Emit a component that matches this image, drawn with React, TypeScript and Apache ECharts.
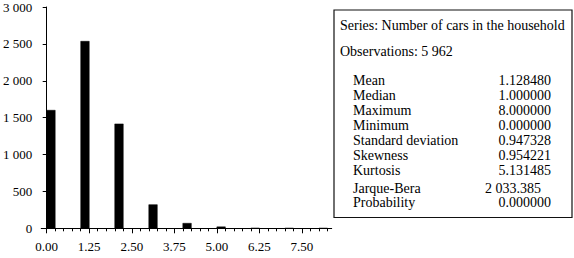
import React, { useEffect, useRef } from "react";
import * as echarts from "echarts";

const binStarts = [0, 1, 2, 3, 4, 5, 6, 7, 8];
const counts = [1600, 2535, 1415, 320, 68, 20, 2, 1, 1];
const binWidth = 0.25;
const xTickLabels = [0, 1.25, 2.5, 3.75, 5, 6.25, 7.5];
const seriesTitle = "Series: Number of cars in the household";
const obsText = "Observations: 5 962";
const statNames = ["Mean", "Median", "Maximum", "Minimum", "Standard deviation", "Skewness", "Kurtosis"];
const statValues = ["1.128480", "1.000000", "8.000000", "0.000000", "0.947328", "0.954221", "5.131485"];
const jbName = "Jarque-Bera";
const jbValue = "2 033.385";
const probName = "Probability";
const probValue = "0.000000";

const FONT = '"Liberation Serif", serif';

export default function App() {
  const ref = useRef<HTMLDivElement>(null);
  useEffect(() => {
    const chart = echarts.init(ref.current!, null, { renderer: "svg" });
    const minorTicks: number[] = [];
    for (let i = 0; i <= 33; i++) {
      const v = i * 0.25;
      if (!xTickLabels.some((m) => Math.abs(m - v) < 1e-9)) minorTicks.push(v);
    }
    const data = binStarts.map((b, i) => [b, counts[i]]);
    const txt = (text: string, x: number, y: number, align = "left") => ({
      type: "text",
      x,
      y,
      style: { text, font: `14px ${FONT}`, fill: "#000", align, verticalAlign: "middle" },
    });
    const graphics: any[] = [
      {
        type: "rect",
        shape: { x: 334, y: 10, width: 238, height: 207.5 },
        style: { fill: "#fff", stroke: "#111", lineWidth: 1.2 },
      },
      txt(seriesTitle, 340, 25),
      txt(obsText, 340, 51.5),
    ];
    statNames.forEach((n, i) => {
      graphics.push(txt(n, 353, 80 + i * 15));
      graphics.push(txt(statValues[i], 551, 80 + i * 15, "right"));
    });
    graphics.push(txt(jbName, 353, 188));
    graphics.push(txt(jbValue, 485, 188));
    graphics.push(txt(probName, 353, 202));
    graphics.push(txt(probValue, 551, 202, "right"));

    chart.setOption({
      animation: false,
      grid: { left: 39, right: 242.3, top: 7, bottom: 29.7 },
      xAxis: [
        {
          type: "value",
          min: -0.16,
          max: 8.375,
          position: "bottom",
          axisLine: { show: true, lineStyle: { color: "#000", width: 1 } },
          axisTick: { show: true, customValues: xTickLabels, length: 5, lineStyle: { color: "#000" } },
          axisLabel: {
            customValues: xTickLabels,
            formatter: (v: number) => v.toFixed(2),
            color: "#000",
            fontFamily: FONT,
            fontSize: 13,
            margin: 12,
          },
          splitLine: { show: false },
        },
        {
          type: "value",
          min: -0.16,
          max: 8.375,
          position: "bottom",
          axisLine: { show: false },
          axisTick: { show: true, customValues: minorTicks, length: 3, lineStyle: { color: "#000" } },
          axisLabel: { show: false },
          splitLine: { show: false },
        },
      ],
      yAxis: {
        type: "value",
        min: 0,
        max: 3000,
        interval: 500,
        axisLine: { show: true, lineStyle: { color: "#000", width: 1 } },
        axisTick: { show: true, length: 4, lineStyle: { color: "#000" } },
        axisLabel: {
          formatter: (v: number) => String(v).replace(/\B(?=(\d{3})+(?!\d))/g, " "),
          color: "#000",
          fontFamily: FONT,
          fontSize: 13,
          margin: 9,
        },
        splitLine: { show: false },
      },
      series: [
        {
          type: "custom",
          xAxisIndex: 0,
          data,
          renderItem: (params: any, api: any) => {
            const x0 = api.value(0);
            const v = api.value(1);
            const p0 = api.coord([x0, 0]);
            const p1 = api.coord([x0 + binWidth, v]);
            return {
              type: "rect",
              shape: { x: p0[0], y: p1[1], width: p1[0] - p0[0], height: p0[1] - p1[1] },
              style: { fill: "#000", stroke: "#000", lineWidth: 0.5 },
            };
          },
        },
      ],
      graphic: graphics,
    });
    return () => chart.dispose();
  }, []);
  return <div ref={ref} style={{ position: "absolute", left: 0, top: 0, width: 574, height: 258 }} />;
}
